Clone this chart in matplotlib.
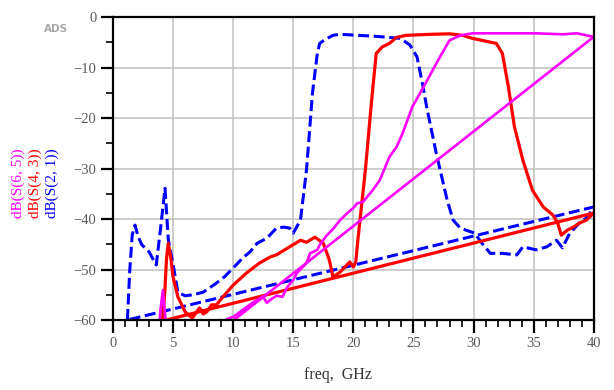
import numpy as np
import matplotlib
matplotlib.use("Agg")
import matplotlib.pyplot as plt
from matplotlib.ticker import MultipleLocator

# dB(S(2,1)) - azul, discontinua
s21_f = [1.2, 1.4, 1.6, 1.83, 2.1, 2.4, 3.0, 3.6, 4.0, 4.33, 4.6, 5.0, 5.4, 6.0,
         6.65, 7.5, 8.6, 9.3, 10.4, 10.8, 11.4, 12.0, 12.8, 13.6, 14.2, 14.7,
         15.0, 15.6, 16.1, 16.6, 17.0, 17.2, 17.6, 18.3, 18.9, 21.9, 23.9, 24.7,
         25.3, 25.8, 26.1, 26.9, 27.8, 28.3, 28.9, 30.1, 30.7, 31.4, 32.4, 33.6,
         34.1, 35.2, 36.1, 36.9, 37.4, 38.0, 38.8, 39.5, 40.0]
s21_db = [-60, -50, -43.2, -41.2, -43.5, -45.1, -46.5, -49.1, -41, -33.9, -44,
          -49, -54.5, -55.2, -55, -54.5, -52.7, -51.4, -48.7, -47.7, -46.5,
          -44.8, -43.8, -41.8, -41.6, -41.8, -42.8, -40.2, -30.3, -15, -7.2,
          -5.2, -4.5, -3.6, -3.4, -3.8, -4.2, -5.5, -7.9, -13.8, -17.8, -27,
          -36.2, -40.2, -41.8, -42.8, -44.8, -46.8, -46.8, -47.1, -45.5, -46.1,
          -45.5, -44.2, -45.7, -42.8, -40.8, -39.6, -37.6]

# dB(S(4,3)) - rojo
s43_f = [4.1, 4.3, 4.45, 4.6, 4.8, 5.0, 5.4, 6.0, 6.6, 7.2, 7.5, 7.8, 8.2, 8.6,
         9.3, 10.0, 11.1, 12.2, 13.1, 13.6, 14.7, 15.6, 16.1, 16.8, 17.5, 18.0,
         18.3, 18.9, 19.3, 19.7, 20.0, 20.2, 20.4, 21.0, 21.5, 21.9, 22.4, 23.0,
         23.6, 24.4, 26.4, 28.0, 29.1, 29.9, 31.1, 31.9, 32.4, 32.9, 33.4, 34.1,
         34.9, 35.8, 36.6, 37.0, 37.3, 37.8, 38.3, 38.8, 39.4, 40.0]
s43_db = [-60.2, -55, -48, -44.8, -47.5, -51.5, -55.4, -58.4, -59.6, -57.6,
          -58.8, -58.4, -57.0, -57, -55, -53.1, -50.7, -48.7, -47.5, -47.1,
          -45.5, -44.2, -44.6, -43.6, -44.8, -48.1, -51.5, -50.5, -49.5, -48.5,
          -49.5, -48.5, -43.6, -30.3, -17, -7.2, -5.9, -5.2, -4.0, -3.6, -3.4,
          -3.3, -3.6, -4.2, -4.8, -5.2, -7.2, -13.8, -21.7, -28.3, -34.3, -37.6,
          -39.2, -40.8, -43.2, -42.2, -41.6, -40.8, -40.2, -38.8]

# dB(S(6,5)) - magenta
s65_f = [1.0, 3.0, 3.8, 3.95, 4.15, 4.3, 4.5, 6.0, 8.0, 8.9, 9.2, 9.7, 10.0,
         10.8, 11.6, 12.0, 12.5, 12.8, 13.1, 13.6, 14.1, 14.5, 15.0, 15.3, 16.1,
         16.4, 17.0, 17.2, 17.8, 18.3, 18.9, 19.5, 20.0, 20.3, 20.8, 21.6, 22.2,
         23.0, 23.6, 24.1, 24.9, 25.8, 26.6, 27.2, 28.0, 28.9, 29.9, 32.4, 35.2,
         37.4, 38.6, 40.0]
s65_db = [-77, -70, -63, -58, -54.1, -58, -63, -68, -64, -60, -60.2, -59.6,
          -59.4, -58, -56.6, -56, -55.4, -56.6, -56, -55.2, -55.4, -53.5, -52.1,
          -50.7, -48.7, -46.8, -46.1, -45.1, -43.2, -42, -40.2, -38.8, -37.8,
          -36.9, -36.6, -34.3, -32.3, -27.7, -25.7, -23.0, -17.8, -14, -10.5,
          -7.9, -4.6, -3.6, -3.2, -3.2, -3.2, -3.4, -3.2, -3.9]

def cerrar(f, db):
    # ADS une el ultimo punto con el primero
    return list(f) + [f[0]], list(db) + [db[0]]

fig = plt.figure(figsize=(6.14, 3.90), dpi=100)
ax = fig.add_axes([0.184, 0.1795, 0.783, 0.7765])

x, y = cerrar(s21_f, s21_db)
ax.plot(x, y, color="#0000FF", linewidth=2.2, dashes=(3.6, 1.5))
x, y = cerrar(s43_f, s43_db)
ax.plot(x, y, color="#FF0000", linewidth=2.3)
x, y = cerrar(s65_f, s65_db)
ax.plot(x, y, color="#FF00FF", linewidth=1.9)

ax.set_xlim(0, 40)
ax.set_ylim(-60, 0)

ax.xaxis.set_major_locator(MultipleLocator(5))
ax.xaxis.set_minor_locator(MultipleLocator(1))
ax.yaxis.set_major_locator(MultipleLocator(10))
ax.yaxis.set_minor_locator(MultipleLocator(5))

ax.grid(True, which="major", color="#c0c0c0", linewidth=1.1)
ax.set_axisbelow(True)

for spine in ax.spines.values():
    spine.set_color("black")
    spine.set_linewidth(1.6)

fuente = "Liberation Serif"
ax.tick_params(which="major", direction="out", length=9, width=1.6,
               colors="black", labelcolor="#5a5a5a", labelsize=10.5, pad=3)
ax.tick_params(which="minor", direction="out", length=5, width=1.2,
               colors="black")
for lab in ax.get_xticklabels() + ax.get_yticklabels():
    lab.set_fontfamily(fuente)

fig.text(338 / 614, 1 - 375 / 390, "freq,  GHz", ha="center", va="center",
         fontsize=11.5, color="#333333", family=fuente)

# etiquetas del eje y, una por traza
yc = 1 - 183 / 390
fig.text(18 / 614, yc, "dB(S(6, 5))", rotation=90, ha="center", va="center",
         fontsize=11, color="#FF00FF", family=fuente)
fig.text(35 / 614, yc, "dB(S(4, 3))", rotation=90, ha="center", va="center",
         fontsize=11, color="#FF0000", family=fuente)
fig.text(52 / 614, yc, "dB(S(2, 1))", rotation=90, ha="center", va="center",
         fontsize=11, color="#0000FF", family=fuente)

fig.text(56 / 614, 1 - 29 / 390, "ADS", ha="center", va="center",
         fontsize=7.5, fontweight="bold", color="#a8a8a8", family="DejaVu Sans")

fig.savefig("out.png", dpi=100)
